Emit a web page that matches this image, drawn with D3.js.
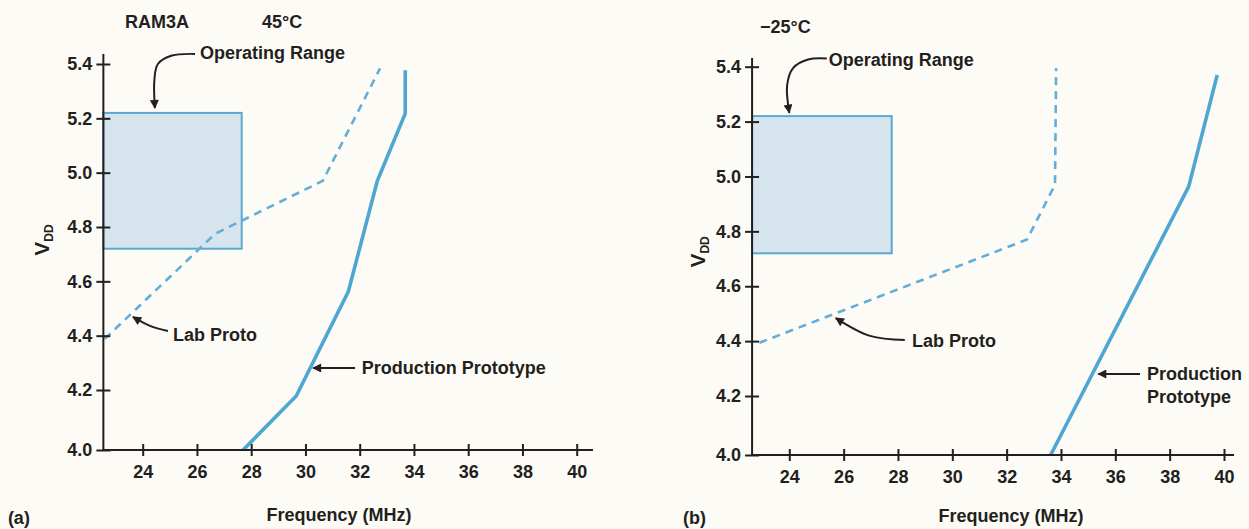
<!DOCTYPE html>
<html><head><meta charset="utf-8">
<script src="https://cdn.jsdelivr.net/npm/d3@7"></script>
<style>
html,body{margin:0;padding:0;background:#fdfbf6;}
svg{display:block;}
text{font-family:"Liberation Sans",Arial,Helvetica,sans-serif;font-weight:bold;fill:#231f20;}
</style></head><body>
<svg id="chart" width="1249" height="529"></svg>
<script>
// ---------- data ----------
const xTicks = [24, 26, 28, 30, 32, 34, 36, 38, 40];
const yTicks = [4.0, 4.2, 4.4, 4.6, 4.8, 5.0, 5.2, 5.4];
const opRangeVdd = [4.72, 5.22];

// panel (a) 45°C
const opRangeA_freq = [22.55, 27.65];
const prodA_freq = [27.7, 29.66, 31.58, 32.65, 33.68, 33.68];
const prodA_vdd  = [4.0, 4.18, 4.562, 4.97, 5.218, 5.377];
const labA_freq  = [22.6, 26.67, 30.64, 32.75];
const labA_vdd   = [4.388, 4.775, 4.97, 5.384];

// panel (b) -25°C
const opRangeB_freq = [22.63, 27.77];
const prodB_freq = [33.62, 38.7, 39.75];
const prodB_vdd  = [4.0, 4.963, 5.37];
const labB_freq  = [22.9, 32.75, 33.78, 33.82];
const labB_vdd   = [4.394, 4.77, 4.97, 5.395];

// ---------- layout / annotations (data units) ----------
const panels = [
  {
    xRange: [142.7, 576.7], yRange: [450, 390, 64], xMin: 22.55, xMax: 40.6, yMax: 5.437,
    boxF: opRangeA_freq, prodF: prodA_freq, prodV: prodA_vdd, labF: labA_freq, labV: labA_vdd,
    texts: [
      {t: "RAM3A", f: 23.35, v: 5.5325},
      {t: "45°C", f: 28.40, v: 5.5325},
      {t: "Operating Range", f: 26.11, v: 5.418},
      {t: "Lab Proto", f: 25.12, v: 4.380},
      {t: "Production Prototype", f: 32.08, v: 4.259}
    ],
    arrows: [
      [[25.93, 5.437], [25.08, 5.431], [24.56, 5.400], [24.43, 5.341], [24.45, 5.238]],
      [[24.93, 4.417], [24.27, 4.436], [23.64, 4.469]],
      [[31.83, 4.281], [30.28, 4.281]]
    ],
    panelLabel: {t: "(a)", f: 19.03, v: 3.755},
    xTitle: {f: 31.24, v: 3.764},
    yTitle: {f: 20.55, v: 4.752}
  },
  {
    xRange: [789.3, 1224], yRange: [455, 396, 66.7], xMin: 22.63, xMax: 40.37, yMax: 5.432,
    boxF: opRangeB_freq, prodF: prodB_freq, prodV: prodB_vdd, labF: labB_freq, labV: labB_vdd,
    texts: [
      {t: "\u221225°C", f: 22.92, v: 5.523},
      {t: "Operating Range", f: 25.45, v: 5.4025},
      {t: "Lab Proto", f: 28.52, v: 4.379},
      {t: "Production", f: 37.17, v: 4.258},
      {t: "Prototype", f: 37.17, v: 4.176}
    ],
    arrows: [
      [[25.38, 5.430], [24.69, 5.426], [24.14, 5.395], [23.92, 5.333], [24.0, 5.232]],
      [[28.25, 4.404], [26.97, 4.419], [25.71, 4.484]],
      [[36.91, 4.280], [35.37, 4.280]]
    ],
    panelLabel: {t: "(b)", f: 20.09, v: 3.766},
    xTitle: {f: 32.16, v: 3.772},
    yTitle: {f: 20.90, v: 4.725}
  }
];

const INK = "#231f20";
const svg = d3.select("#chart");
svg.append("rect").attr("width", 1249).attr("height", 529).attr("fill", "#fdfbf6");
svg.append("defs").append("marker")
  .attr("id", "ah").attr("viewBox", "0 0 10 10").attr("refX", 9).attr("refY", 5)
  .attr("markerWidth", 12).attr("markerHeight", 9).attr("markerUnits", "userSpaceOnUse")
  .attr("orient", "auto")
  .append("path").attr("d", "M0,0 L10,5 L0,10 Z").attr("fill", INK);

function drawPanel(p) {
  const x = d3.scaleLinear().domain([24, 40]).range(p.xRange);
  const y = d3.scaleLinear().domain([4.0, 4.2, 5.4]).range(p.yRange);
  const g = svg.append("g");

  // operating range box
  g.append("rect")
    .attr("x", x(p.boxF[0])).attr("y", y(opRangeVdd[1]))
    .attr("width", x(p.boxF[1]) - x(p.boxF[0]))
    .attr("height", y(opRangeVdd[0]) - y(opRangeVdd[1]))
    .attr("fill", "#d6e5ed").attr("stroke", "#5ba9d2").attr("stroke-width", 2);

  const line = d3.line().x(d => x(d[0])).y(d => y(d[1]));
  g.append("path").datum(d3.zip(p.labF, p.labV)).attr("d", line)
    .attr("fill", "none").attr("stroke", "#62aed8").attr("stroke-width", 2.6)
    .attr("stroke-dasharray", "8,6");
  g.append("path").datum(d3.zip(p.prodF, p.prodV)).attr("d", line)
    .attr("fill", "none").attr("stroke", "#4fa6d2").attr("stroke-width", 3.6)
    .attr("stroke-linejoin", "miter");

  // axes
  const gx = g.append("g").attr("transform", `translate(0,${y(4)})`)
    .call(d3.axisBottom(x).tickValues(xTicks).tickSize(6).tickFormat(d3.format("d")));
  gx.select(".domain").remove();
  gx.attr("font-size", 18).attr("font-family", null);
  gx.selectAll(".tick line").attr("y1", -6).attr("y2", 6).attr("stroke", INK).attr("stroke-width", 2);
  gx.selectAll(".tick text").attr("y", 28).attr("dy", null);

  const gy = g.append("g").attr("transform", `translate(${x(p.xMin)},0)`)
    .call(d3.axisLeft(y).tickValues(yTicks).tickSize(7).tickFormat(d3.format(".1f")));
  gy.select(".domain").remove();
  gy.attr("font-size", 18).attr("font-family", null);
  gy.selectAll(".tick line").attr("x1", -7).attr("x2", 7).attr("stroke", INK).attr("stroke-width", 2);
  gy.selectAll(".tick text").attr("x", -11);

  g.append("line").attr("x1", x(p.xMin) - 1).attr("x2", x(p.xMax))
    .attr("y1", y(4)).attr("y2", y(4)).attr("stroke", INK).attr("stroke-width", 2);
  g.append("line").attr("x1", x(p.xMin)).attr("x2", x(p.xMin))
    .attr("y1", y(4)).attr("y2", y(p.yMax)).attr("stroke", INK).attr("stroke-width", 2);

  // annotation texts
  g.selectAll("text.ann").data(p.texts).join("text").attr("class", "ann")
    .attr("x", d => x(d.f)).attr("y", d => y(d.v)).attr("font-size", 18).text(d => d.t);

  // arrows
  const aline = d3.line().x(d => x(d[0])).y(d => y(d[1])).curve(d3.curveCatmullRom.alpha(0.5));
  g.selectAll("path.arrow").data(p.arrows).join("path").attr("class", "arrow")
    .attr("d", aline).attr("fill", "none").attr("stroke", INK).attr("stroke-width", 2)
    .attr("marker-end", "url(#ah)");

  // labels
  g.append("text").attr("x", x(p.panelLabel.f)).attr("y", y(p.panelLabel.v))
    .attr("font-size", 18).text(p.panelLabel.t);
  g.append("text").attr("x", x(p.xTitle.f)).attr("y", y(p.xTitle.v))
    .attr("text-anchor", "middle").attr("font-size", 18).text("Frequency (MHz)");
  const yt = g.append("text")
    .attr("transform", `translate(${x(p.yTitle.f)},${y(p.yTitle.v)}) rotate(-90)`)
    .attr("text-anchor", "middle");
  yt.append("tspan").attr("font-size", 21).text("V");
  yt.append("tspan").attr("font-size", 12).attr("dy", 4).text("DD");
}

panels.forEach(drawPanel);
</script>
</body></html>
